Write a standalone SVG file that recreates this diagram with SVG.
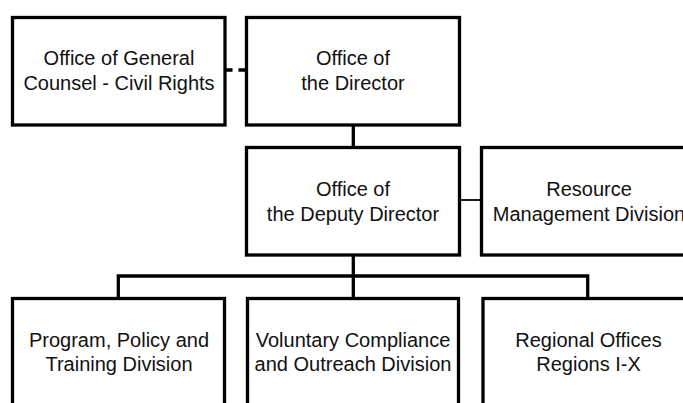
<svg xmlns="http://www.w3.org/2000/svg" width="683" height="403" viewBox="0 0 683 403">
<style>
.box{fill:#fff;stroke:#000;stroke-width:3.3}
.t{font-family:"Liberation Sans",Arial,sans-serif;font-size:20px;fill:#111;text-anchor:middle}
.c{fill:none;stroke:#000;stroke-width:3.3}
</style>
<rect width="683" height="403" fill="#fff"/>
<g id="connectors">
<line class="c" x1="226" y1="70" x2="245" y2="70" stroke-dasharray="6.5 6"/>
<line class="c" x1="353.3" y1="125" x2="353.3" y2="148"/>
<line x1="459" y1="200" x2="482" y2="200" stroke="#000" stroke-width="1.8"/>
<line class="c" x1="353.3" y1="255" x2="353.3" y2="298"/>
<polyline class="c" points="118.3,298 118.3,276 587.7,276 587.7,298"/>
</g>
<g id="ogc">
<rect class="box" x="12.5" y="17.5" width="212.5" height="107.5"/>
<text class="t" x="119" y="65">Office of General</text>
<text class="t" x="119" y="90">Counsel - Civil Rights</text>
</g>
<g id="director">
<rect class="box" x="246.5" y="17.5" width="213" height="107.5"/>
<text class="t" x="353" y="65">Office of</text>
<text class="t" x="353" y="90">the Director</text>
</g>
<g id="deputy">
<rect class="box" x="246.5" y="147.5" width="213" height="107.5"/>
<text class="t" x="353" y="195.5">Office of</text>
<text class="t" x="353" y="220.5">the Deputy Director</text>
</g>
<g id="rmd">
<rect class="box" x="481.5" y="147.5" width="214" height="107.5"/>
<text class="t" x="589" y="195.5">Resource</text>
<text class="t" x="589" y="220.5">Management Division</text>
</g>
<g id="ppt">
<rect class="box" x="12.5" y="298.5" width="212" height="130"/>
<text class="t" x="119" y="347">Program, Policy and</text>
<text class="t" x="119" y="371">Training Division</text>
</g>
<g id="vco">
<rect class="box" x="247.5" y="298.5" width="211" height="130"/>
<text class="t" x="353" y="347">Voluntary Compliance</text>
<text class="t" x="353" y="371">and Outreach Division</text>
</g>
<g id="regional">
<rect class="box" x="483" y="298.5" width="212" height="130"/>
<text class="t" x="588.5" y="347">Regional Offices</text>
<text class="t" x="588.5" y="371">Regions I-X</text>
</g>
</svg>
